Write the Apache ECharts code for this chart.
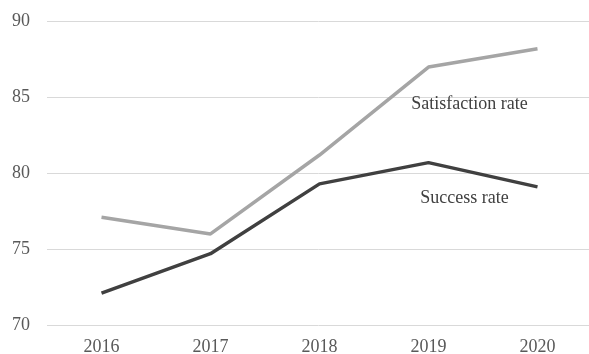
<!DOCTYPE html>
<html>
<head>
<meta charset="utf-8">
<style>html,body{margin:0;padding:0;background:#fff;}#c{width:589px;height:354px;}</style>
<script src="https://cdn.jsdelivr.net/npm/echarts@6/dist/echarts.min.js"></script>
</head>
<body>
<div id="c"></div>
<script>
const years = ['2016', '2017', '2018', '2019', '2020'];
const satisfaction = [77.1, 76.0, 81.2, 87.0, 88.2];
const success = [72.1, 74.7, 79.3, 80.7, 79.1];
const satisfactionName = 'Satisfaction rate';
const successName = 'Success rate';
const labelIndex = 3;

const font = 'Liberation Serif, Times New Roman, serif';

function withLabel(values, name, offset) {
  return values.map((v, i) => i === labelIndex ? {
    value: v,
    label: {
      show: true, formatter: name, position: 'inside', offset: offset,
      fontFamily: font, fontSize: 18, color: '#404040'
    }
  } : v);
}

const chart = echarts.init(document.getElementById('c'));
chart.setOption({
  animation: false,
  grid: { left: 47, top: 21.5, width: 545, height: 303.5, containLabel: false, outerBoundsMode: 'none' },
  xAxis: {
    type: 'category', data: years, boundaryGap: true,
    axisLine: { show: false }, axisTick: { show: false },
    axisLabel: { fontFamily: font, fontSize: 18, color: '#595959', margin: 13 }
  },
  yAxis: {
    type: 'value', min: 70, max: 90, interval: 5,
    axisLine: { show: false }, axisTick: { show: false },
    axisLabel: { fontFamily: font, fontSize: 18, color: '#595959', margin: 17 },
    splitLine: { lineStyle: { color: '#d9d9d9', width: 1 } }
  },
  series: [
    {
      name: satisfactionName, type: 'line', data: withLabel(satisfaction, satisfactionName, [41, 37]),
      symbol: 'circle', symbolSize: 0, showSymbol: true,
      lineStyle: { color: '#a5a5a5', width: 3.5 }, itemStyle: { color: '#a5a5a5' }
    },
    {
      name: successName, type: 'line', data: withLabel(success, successName, [36, 36]),
      symbol: 'circle', symbolSize: 0, showSymbol: true,
      lineStyle: { color: '#404040', width: 3.5 }, itemStyle: { color: '#404040' }
    }
  ]
});
</script>
</body>
</html>
